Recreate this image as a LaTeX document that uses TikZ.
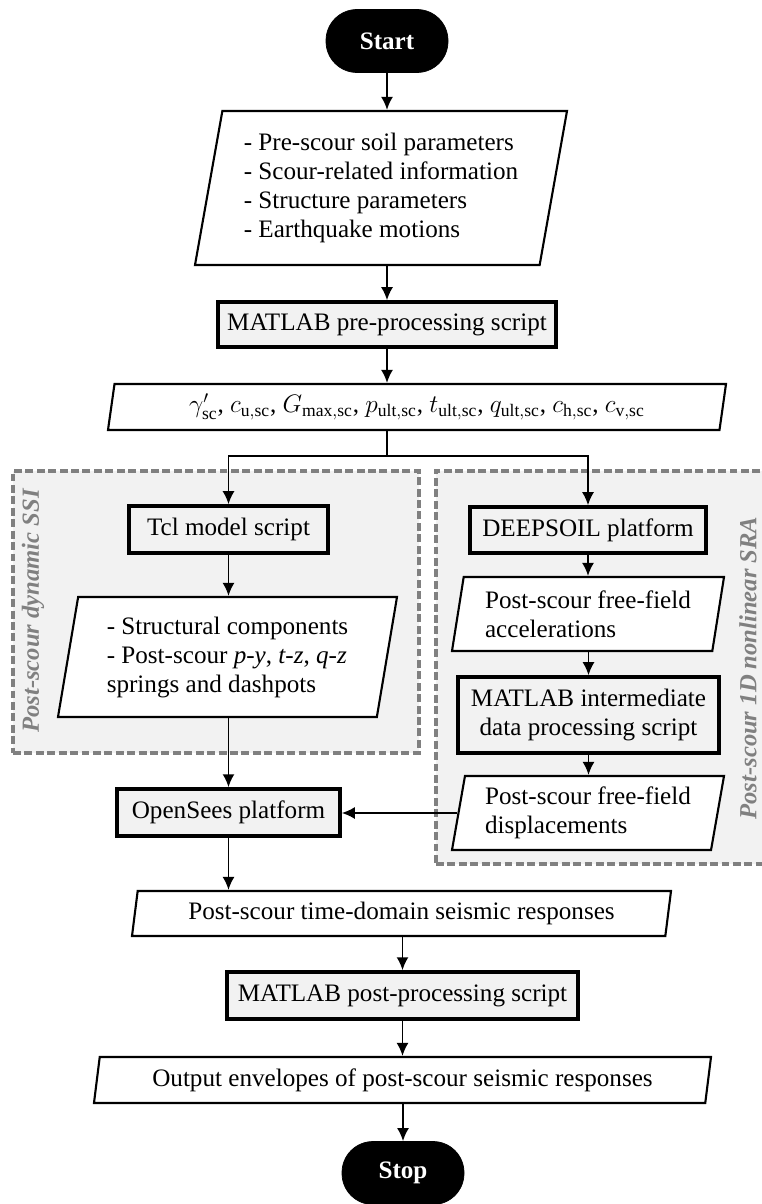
\documentclass[tikz,border=0pt]{standalone}
\usepackage{fontspec}
\setmainfont{Liberation Serif}
\usetikzlibrary{arrows.meta,shapes.geometric,backgrounds}
\definecolor{boxgray}{HTML}{F2F2F2}
\definecolor{groupgray}{HTML}{808080}
\tikzset{
  >={Latex[length=2.6mm,width=2.4mm]},
  every node/.style={font=\fontsize{14.3}{16.5}\selectfont,inner sep=0pt},
  terminal/.style={rounded corners=6.2mm,fill=black,draw=black,text=white,font=\fontsize{14.3}{16.5}\selectfont\bfseries,minimum width=24.4mm,minimum height=12.6mm},
  procbox/.style={draw,line width=2pt,fill=boxgray,align=center,minimum height=9.2mm},
  iobox/.style={draw,line width=1.2pt,fill=white,trapezium,trapezium left angle=76,trapezium right angle=104,trapezium stretches body=true,align=left},
  groupbox/.style={draw=groupgray,line width=2pt,dash pattern=on 4.5pt off 2pt,fill=boxgray},
  grouplabel/.style={text=groupgray,font=\fontsize{14}{16}\selectfont\bfseries\itshape,rotate=90},
  arrow/.style={->,line width=1.1pt},
  conn/.style={line width=1.1pt},
}

\begin{document}
\begin{tikzpicture}[x=0.2mm,y=-0.2mm]
\useasboundingbox (0,0) rectangle (761,1204);

\node[terminal] (start) at (387,41) {Start};
\node[iobox,minimum width=74.4mm,minimum height=30.8mm] (inputs) at (381,188) {- Pre-scour soil parameters\\- Scour-related information\\- Structure parameters\\- Earthquake motions};
\node[procbox,minimum width=67.6mm,minimum height=9mm] (prescript) at (387,324.5) {MATLAB pre-processing script};
\node[iobox,minimum width=123.6mm,minimum height=9.2mm,align=center] (params) at (417,407) {$\gamma'_{\mathrm{sc}}$, $c_{\mathrm{u,sc}}$, $G_{\mathrm{max,sc}}$, $p_{\mathrm{ult,sc}}$, $t_{\mathrm{ult,sc}}$, $q_{\mathrm{ult,sc}}$, $c_{\mathrm{h,sc}}$, $c_{\mathrm{v,sc}}$};
\coordinate (split) at (387,456);

% left branch: dynamic SSI
\node[procbox,minimum width=39.8mm,minimum height=9.4mm] (tcl) at (228.5,529.5) {Tcl model script};
\node[iobox,minimum width=67.8mm,minimum height=24mm] (ssiin) at (227.5,657) {- Structural components\\- Post-scour \textit{p-y}, \textit{t-z}, \textit{q-z}\\springs and dashpots};
\node[procbox,minimum width=44.6mm,minimum height=9.4mm] (opensees) at (228.5,812.5) {OpenSees platform};

% right branch: 1D nonlinear SRA
\node[procbox,minimum width=47.2mm] (deepsoil) at (588,530) {DEEPSOIL platform};
\node[iobox,minimum width=54.4mm,minimum height=14.8mm] (accel) at (588,614) {Post-scour free-field\\accelerations};
\node[procbox,minimum width=52.2mm,minimum height=15.2mm] (midscript) at (588.5,715) {MATLAB intermediate\\data processing script};
\node[iobox,minimum width=54.4mm,minimum height=14.8mm] (disp) at (588,813) {Post-scour free-field\\displacements};

\node[iobox,minimum width=107.8mm,minimum height=9mm,align=center] (timedom) at (401.5,913.5) {Post-scour time-domain seismic responses};
\node[procbox,minimum width=70.2mm,minimum height=9.4mm] (postscript) at (402.5,995.5) {MATLAB post-processing script};
\node[iobox,minimum width=123.4mm,minimum height=9.2mm,align=center] (output) at (402.5,1080) {Output envelopes of post-scour seismic responses};
\node[terminal] (stop) at (403,1173) {Stop};

\begin{scope}[on background layer]
\node[groupbox,minimum width=81.2mm,minimum height=56.4mm] (ssigroup) at (216,612) {};
\node[groupbox,minimum width=70.8mm,minimum height=78.6mm] (sragroup) at (613,667.5) {};
\end{scope}
\node[grouplabel] (ssilabel) at (33,611) {Post-scour dynamic SSI};
\node[grouplabel] (sralabel) at (748,668) {Post-scour 1D nonlinear SRA};

\draw[arrow] (start.south) -- (start.south |- inputs.north);
\draw[arrow] (prescript.north |- inputs.south) -- (prescript.north);
\draw[arrow] (prescript.south) -- (prescript.south |- params.north);
\draw[conn] (params.south -| split) -- (split);
\draw[arrow] (split) -| (tcl.north);
\draw[arrow] (split) -| (deepsoil.north);
\draw[arrow] (tcl.south) -- (tcl.south |- ssiin.north);
\draw[arrow] (opensees.north |- ssiin.south) -- (opensees.north);
\draw[arrow] (deepsoil.south) -- (deepsoil.south |- accel.north);
\draw[arrow] (midscript.north |- accel.south) -- (midscript.north);
\draw[arrow] (midscript.south) -- (midscript.south |- disp.north);
\draw[arrow] (disp.left side) -- (disp.left side -| opensees.east);
\draw[arrow] (opensees.south) -- (opensees.south |- timedom.north);
\draw[arrow] (postscript.north |- timedom.south) -- (postscript.north);
\draw[arrow] (postscript.south) -- (postscript.south |- output.north);
\draw[arrow] (stop.north |- output.south) -- (stop.north);

\end{tikzpicture}
\end{document}
